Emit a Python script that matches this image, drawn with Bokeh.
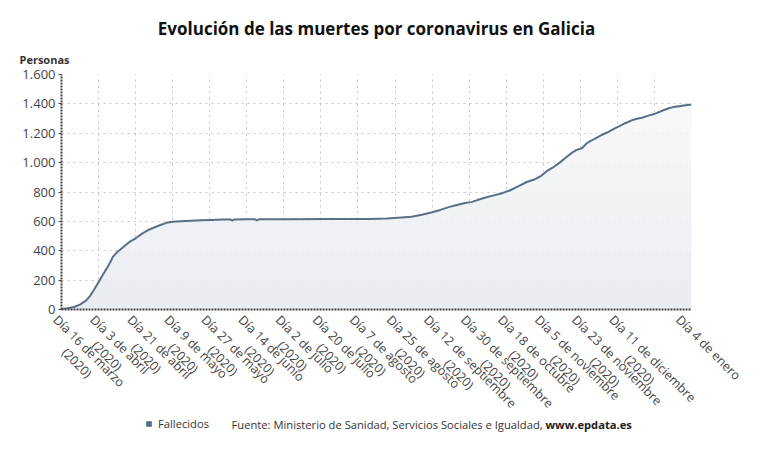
from bokeh.plotting import figure
from bokeh.layouts import column
from bokeh.models import (Range1d, FixedTicker, Label, Legend, LegendItem, Title,
                          ColumnDataSource)
from bokeh.embed import file_html
from bokeh.resources import INLINE

# Cumulative deaths in Galicia, by day since 16 March 2020
day = [0, 3, 6, 9, 12, 14, 16, 18, 20, 22, 24, 25, 27, 30, 33, 36, 39, 42, 45, 48,
       51, 54, 58, 63, 68, 73, 78, 82, 83, 84, 90, 94, 95, 96, 110, 130, 150, 158,
       165, 170, 175, 180, 184, 188, 192, 196, 199, 202, 206, 210, 214, 218, 222,
       226, 230, 233, 236, 239, 242, 245, 248, 250, 253, 255, 257, 259, 262, 265,
       267, 269, 271, 274, 277, 280, 282, 285, 287, 289, 292, 295, 297, 300, 303, 306]
fallecidos = [3, 8, 17, 33, 62, 95, 140, 185, 235, 280, 330, 360, 390, 425, 460, 485,
              515, 540, 558, 575, 590, 597, 601, 604, 607, 610, 612, 613, 605, 613, 614,
              614, 606, 615, 615, 616, 617, 620, 627, 632, 645, 662, 678, 697, 712, 725,
              731, 745, 762, 777, 792, 812, 840, 868, 887, 910, 945, 970, 1000, 1035,
              1068, 1085, 1100, 1130, 1148, 1162, 1185, 1205, 1220, 1235, 1248, 1270,
              1288, 1300, 1306, 1320, 1328, 1337, 1355, 1370, 1378, 1384, 1390, 1396]

x_ticks = [0, 18, 36, 54, 72, 90, 108, 126, 144, 162, 180, 198, 216, 234, 252, 270, 288, 306]
x_dates = ["Día 16 de marzo", "Día 3 de abril", "Día 21 de abril", "Día 9 de mayo",
           "Día 27 de mayo", "Día 14 de junio", "Día 2 de julio", "Día 20 de julio",
           "Día 7 de agosto", "Día 25 de agosto", "Día 12 de septiembre",
           "Día 30 de septiembre", "Día 18 de octubre", "Día 5 de noviembre",
           "Día 23 de noviembre", "Día 11 de diciembre", "", "Día 4 de enero"]
x_years = ["(2020)"] * 16 + ["", ""]
y_ticks = [0, 200, 400, 600, 800, 1000, 1200, 1400, 1600]
y_labels = ["0", "200", "400", "600", "800", "1.000", "1.200", "1.400", "1.600"]

FONT = "Open Sans"
LINE = "#5a6f85"
NBSP = "\u00a0"

# approximate Open Sans advance widths (em), used to centre the year under the date
EM = {" ": .26, "(": .278, ")": .278, "D": .722, "í": .253, "a": .556, "b": .613,
      "c": .476, "d": .613, "e": .561, "g": .548, "i": .253, "j": .253, "l": .253,
      "m": .93, "n": .614, "o": .604, "p": .613, "r": .408, "s": .477, "t": .353,
      "u": .614, "v": .501, "y": .501, "z": .458}


def text_em(s):
    return sum(EM.get(ch, .572) for ch in s)


def tick_label(date, year):
    # Bokeh centres a rotated label box on its tick; two blank lines on top
    # make the date line itself start right at the tick.
    if not date:
        return ""
    pad = max(0, round((text_em(date) - text_em(year)) / 2 / EM[" "]))
    return "\n".join([NBSP, NBSP, date, NBSP * pad + (year if year else NBSP)])


FRAME_BOTTOM = 309      # page y of the chart's base line
BOTTOM_BORDER = 152     # room for the rotated date labels
MAIN_H = FRAME_BOTTOM + BOTTOM_BORDER
FOOT_TOP, FOOT_H = 417, 34

p = figure(width=768, height=MAIN_H, output_backend="svg", toolbar_location=None,
           x_range=Range1d(0, 306), y_range=Range1d(0, 1600),
           min_border_left=61, min_border_right=77, min_border_top=74,
           min_border_bottom=BOTTOM_BORDER)
p.outline_line_color = None
p.background_fill_color = "white"
p.border_fill_color = "white"

# area fill shaded in horizontal bands: darker near the base, lighter towards the top
band_edges = [0, 200, 400, 600, 800, 1000, 1200, 1400]
band_colors = ["#e9edf2", "#ecf0f4", "#eef1f5", "#f0f3f6", "#f2f5f8", "#f4f6f9", "#f7f8fa"]
for k, (lo, hi, col) in enumerate(zip(band_edges[:-1], band_edges[1:], band_colors)):
    y1 = [min(v, lo) for v in fallecidos]
    y2 = fallecidos if k == len(band_colors) - 1 else [min(v, hi) for v in fallecidos]
    p.varea(x=day, y1=y1, y2=y2, fill_color=col)

src = ColumnDataSource(dict(x=day, y=fallecidos))
p.line(x="x", y="y", source=src, line_color=LINE, line_width=2)

# axes
p.xaxis.ticker = FixedTicker(ticks=x_ticks)
p.xaxis.major_label_overrides = {t: tick_label(d, y) for t, d, y in zip(x_ticks, x_dates, x_years)}
p.xaxis.major_label_orientation = -0.785398
p.yaxis.ticker = FixedTicker(ticks=y_ticks)
p.yaxis.major_label_overrides = {t: l for t, l in zip(y_ticks, y_labels)}
for ax in (p.xaxis, p.yaxis):
    ax.axis_line_color = "#444444"
    ax.axis_line_width = 2
    ax.axis_line_dash = "2 1"
    ax.minor_tick_line_color = None
    ax.major_label_text_font = FONT
    ax.major_label_text_color = "#444444"
p.xaxis.major_tick_line_color = None
p.xaxis.major_tick_in = 0
p.xaxis.major_tick_out = 0
p.xaxis.major_label_text_font_size = "12.5px"
p.xaxis.major_label_text_line_height = 1.0
p.xaxis.major_label_standoff = 2
p.yaxis.major_tick_in = 0
p.yaxis.major_tick_out = 3
p.yaxis.major_tick_line_color = "#444444"
p.yaxis.major_label_text_font_size = "13px"
p.yaxis.major_label_standoff = 3

for g in (p.xgrid, p.ygrid):
    g.grid_line_color = "#c4c4c4"
    g.grid_line_dash = "dotted"
    g.grid_line_width = 1

# titles above the frame: the first added sits closest to the frame
p.add_layout(Title(text="Personas", align="left", offset=-42, standoff=15,
                   text_font=FONT, text_font_style="bold", text_font_size="11px",
                   text_color="#333333"), "above")
p.add_layout(Title(text="Evolución de las muertes por coronavirus en Galicia",
                   align="center", standoff=5, text_font=FONT, text_font_style="bold",
                   text_font_size="17px", text_color="#111111"), "above")

# footer strip, pulled up over the chart's empty bottom margin
# (its frame lines up with the chart's frame, so x is in page pixels)
f = figure(width=768, height=FOOT_H, output_backend="svg", toolbar_location=None,
           x_range=Range1d(61, 691), y_range=Range1d(0, FOOT_H),
           x_axis_type=None, y_axis_type=None, min_border=0,
           margin=(FOOT_TOP - MAIN_H, 0, 0, 0))
f.outline_line_color = None
f.grid.visible = False
f.background_fill_color = None
f.border_fill_color = None

swatch = f.varea(x=[0], y1=[0], y2=[0], fill_color="#4f6d8c")
legend = Legend(items=[LegendItem(label="Fallecidos", renderers=[swatch])],
                location=(84, 20), orientation="horizontal",
                glyph_width=7, glyph_height=7, label_height=14, label_standoff=6,
                padding=0, margin=0, border_line_color=None, background_fill_alpha=0,
                label_text_font=FONT, label_text_font_size="11.2px",
                label_text_color="#333333")
f.add_layout(legend)
f.add_layout(Label(x=231, y=27, text="Fuente: Ministerio de Sanidad, Servicios Sociales e Igualdad,",
                   text_font=FONT, text_font_size="11.2px", text_color="#333333",
                   text_align="left", text_baseline="middle"))
f.add_layout(Label(x=545, y=27, text="www.epdata.es", text_font=FONT, text_font_style="bold",
                   text_font_size="11.2px", text_color="#222222",
                   text_align="left", text_baseline="middle"))

layout = column(p, f, spacing=0)
open("out.html", "w").write(file_html(layout, INLINE))
